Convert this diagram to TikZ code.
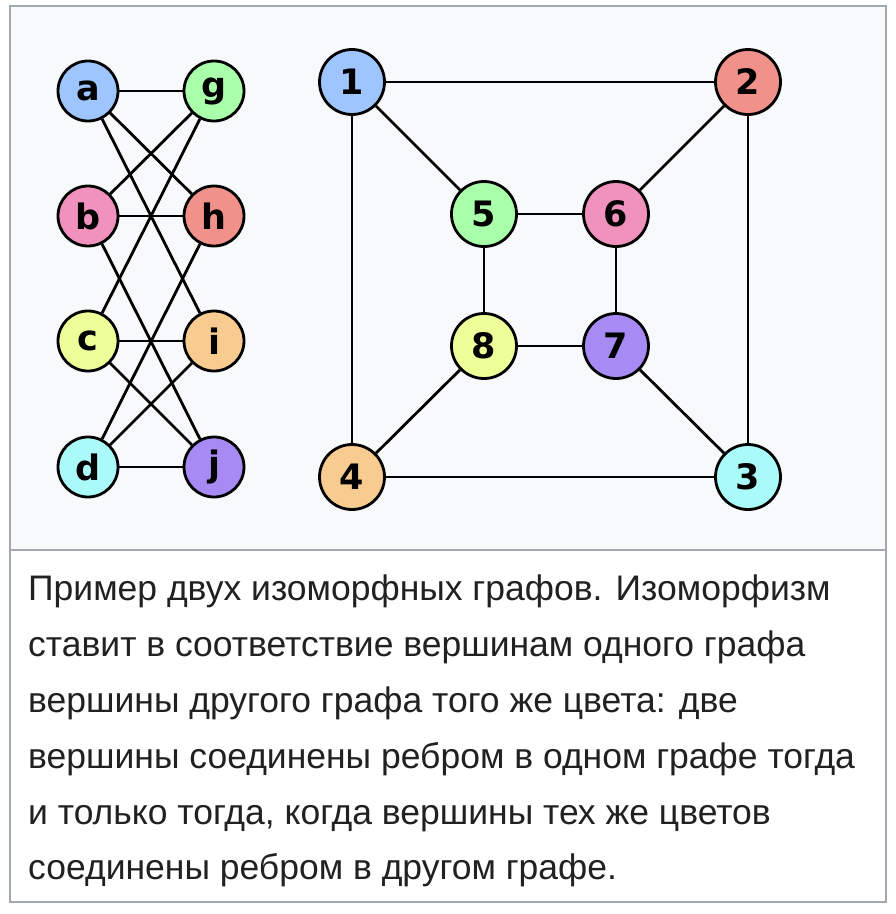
\documentclass[tikz,border=0pt]{standalone}
\usepackage{fontspec}
\setmainfont{Liberation Sans}
\newfontfamily\vertexfont{DejaVu Sans}
\usetikzlibrary{positioning}
\definecolor{panelfill}{HTML}{F8F9FA}
\definecolor{frameline}{HTML}{A2A9B1}
\definecolor{captiontext}{HTML}{202122}
\definecolor{vtxblue}{RGB}{158,197,254}
\definecolor{vtxgreen}{RGB}{170,255,170}
\definecolor{vtxpink}{RGB}{240,145,190}
\definecolor{vtxsalmon}{RGB}{240,145,138}
\definecolor{vtxyellow}{RGB}{238,255,153}
\definecolor{vtxorange}{RGB}{248,204,144}
\definecolor{vtxcyan}{RGB}{170,250,250}
\definecolor{vtxpurple}{RGB}{168,138,245}
\tikzset{
  vertex/.style={
    circle, draw=black, line width=2.8pt,
    minimum size=60pt, inner sep=0pt,
    font=\vertexfont\bfseries\fontsize{35}{35}\selectfont
  },
  bigvertex/.style={vertex, minimum size=65pt},
  edge/.style={draw=black, line width=2.8pt},
  captionbox/.style={
    inner sep=0pt, align=left, text=captiontext,
    font=\fontsize{35.5}{55.8}\selectfont
  }
}
\begin{document}
\begin{tikzpicture}[x=1pt, y=-1pt, on grid]
\useasboundingbox (0,0) rectangle (896,914);

% ---- frame: grey picture panel, white caption panel ----
\fill[panelfill] (10,6) rectangle (886,550);
\draw[frameline, line width=2pt] (10,6) rectangle (886,902);
\draw[frameline, line width=2pt] (10,550) -- (886,550);

% ---- left graph (two columns) ----
\node[vertex, fill=vtxblue] (a) at (88,91) {a};
\node[vertex, fill=vtxgreen, right=126pt of a] (g) {g};
\node[vertex, fill=vtxpink, below=125pt of a] (b) {b};
\node[vertex, fill=vtxsalmon, right=126pt of b] (h) {h};
\node[vertex, fill=vtxyellow, below=125pt of b] (c) {c};
\node[vertex, fill=vtxorange, right=126pt of c] (i) {i};
\node[vertex, fill=vtxcyan, below=126pt of c] (d) {d};
\node[vertex, fill=vtxpurple, right=126pt of d] (j) {j};

% ---- right graph (cube) ----
\node[bigvertex, fill=vtxblue] (n1) at (352,82) {1};
\node[bigvertex, fill=vtxsalmon, right=396pt of n1] (n2) {2};
\node[bigvertex, fill=vtxgreen, below right=132pt and 132pt of n1] (n5) {5};
\node[bigvertex, fill=vtxpink, right=132pt of n5] (n6) {6};
\node[bigvertex, fill=vtxyellow, below=132pt of n5] (n8) {8};
\node[bigvertex, fill=vtxpurple, right=132pt of n8] (n7) {7};
\node[bigvertex, fill=vtxorange, below=395pt of n1] (n4) {4};
\node[bigvertex, fill=vtxcyan, right=396pt of n4] (n3) {3};

% ---- edges ----
\foreach \u/\v in {a/g, a/h, a/i, b/g, b/h, b/j, c/g, c/i, c/j, d/h, d/i, d/j}
  \draw[edge] (\u) -- (\v);
\foreach \u/\v in {n1/n2, n1/n5, n1/n4, n2/n6, n2/n3, n5/n6,
                   n5/n8, n6/n7, n8/n7, n8/n4, n7/n3, n4/n3}
  \draw[edge] (\u) -- (\v);

% ---- caption ----
\node[captionbox, anchor=north west] (caption) at (28,575) {
  Пример двух изоморфных графов. Изоморфизм\\
  ставит в соответствие вершинам одного графа\\
  вершины другого графа того же цвета: две\\
  вершины соединены ребром в одном графе тогда\\
  и только тогда, когда вершины тех же цветов\\
  соединены ребром в другом графе.
};

\end{tikzpicture}
\end{document}
